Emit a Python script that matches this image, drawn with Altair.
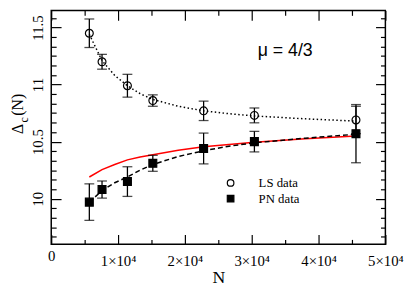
import altair as alt
import pandas as pd

# ---- data ----
N = [5700, 7600, 11400, 15200, 22800, 30400, 45600]
ls_val = [11.45, 11.20, 10.99, 10.86, 10.77, 10.73, 10.69]
ls_err = [0.125, 0.065, 0.10, 0.05, 0.085, 0.065, 0.12]
pn_val = [9.97, 10.08, 10.15, 10.31, 10.44, 10.50, 10.57]
pn_err = [0.16, 0.075, 0.13, 0.07, 0.135, 0.09, 0.255]

fit_N = [5700, 7600, 9500, 11400, 13300, 15200, 19000, 22800, 26600, 30400, 38000, 45600]
ls_fit = [11.44, 11.21, 11.08, 10.99, 10.92, 10.87, 10.81, 10.77, 10.745, 10.725, 10.70, 10.68]
pn_fit = [9.97, 10.07, 10.14, 10.19, 10.25, 10.30, 10.37, 10.42, 10.46, 10.49, 10.53, 10.565]
red_fit = [10.19, 10.255, 10.30, 10.34, 10.365, 10.385, 10.425, 10.455, 10.475, 10.495, 10.525, 10.55]

series_names = ["LS data", "PN data"]
annotation = ["μ = 4/3"]

x_major = [0, 10000, 20000, 30000, 40000, 50000]
x_minor = [5000, 15000, 25000, 35000, 45000]
y_major = [10, 10.5, 11, 11.5]
y_minor = [k / 12 for k in range(116, 140) if k % 6 != 0]

# ---- tables ----
df_pts = pd.DataFrame({
    "N": N + N,
    "v": ls_val + pn_val,
    "err": ls_err + pn_err,
    "series": [series_names[0]] * len(N) + [series_names[1]] * len(N),
})
df_pts["lo"] = df_pts["v"] - df_pts["err"]
df_pts["hi"] = df_pts["v"] + df_pts["err"]

df_fit = pd.DataFrame({"N": fit_N, "ls": ls_fit, "pn": pn_fit, "red": red_fit})
df_txt = pd.DataFrame({"N": [30900], "v": [11.25], "t": annotation})

SERIF = "Liberation Serif"
xs = alt.Scale(domain=[0, 50000], nice=False, zero=False)
ys = alt.Scale(domain=[9.6, 11.65], nice=False, zero=False)


def tick_axis(orient, values, size):
    return alt.Axis(orient=orient, values=values, labels=False, domain=False,
                    grid=False, ticks=True, tickSize=size, offset=-size,
                    tickColor="black", tickWidth=1.2, title=None)


main_x = alt.Axis(
    orient="bottom", values=x_major,
    labelExpr="datum.value == 0 ? '0' : format(datum.value / 10000, 'd') + '×10⁴'",
    ticks=False, domain=False, grid=False, labelFlush=False, labelOverlap=False,
    labelFont=SERIF, labelFontSize=15, labelColor="black", labelBaseline="top",
    labelPadding={"condition": {"test": "datum.value == 0", "value": 4}, "value": 10},
    title="N", titleFont=SERIF, titleFontSize=18, titleFontWeight="normal",
    titleColor="black", titlePadding=0,
)
main_y = alt.Axis(
    orient="left", values=y_major, labelExpr="format(datum.value, '~g')",
    ticks=False, domain=False, grid=False, labelFlush=False, labelOverlap=False,
    labelAngle=270, labelAlign="center", labelBaseline="bottom", labelPadding=6,
    labelFont=SERIF, labelFontSize=15, labelColor="black", title=None,
)

red = alt.Chart(df_fit).mark_line(color="#ff0000", strokeWidth=1.5).encode(
    x=alt.X("N:Q", scale=xs, axis=main_x),
    y=alt.Y("red:Q", scale=ys, axis=main_y),
)
dotted = alt.Chart(df_fit).mark_line(color="black", strokeWidth=1.5, strokeDash=[1.5, 2.5]).encode(
    x=alt.X("N:Q", scale=xs, axis=tick_axis("bottom", x_major, 10)),
    y=alt.Y("ls:Q", scale=ys, axis=tick_axis("left", y_major, 10)),
)
dashed = alt.Chart(df_fit).mark_line(color="black", strokeWidth=1.5, strokeDash=[5, 3]).encode(
    x=alt.X("N:Q", scale=xs, axis=tick_axis("bottom", x_minor, 5)),
    y=alt.Y("pn:Q", scale=ys, axis=tick_axis("left", y_minor, 5)),
)
rules = alt.Chart(df_pts).mark_rule(color="black", strokeWidth=1.3).encode(
    x=alt.X("N:Q", scale=xs, axis=tick_axis("top", x_major, 10)),
    y=alt.Y("lo:Q", scale=ys, axis=tick_axis("right", y_major, 10)),
    y2="hi:Q",
)
caps_lo = alt.Chart(df_pts).mark_tick(color="black", orient="horizontal", size=10, thickness=1.3).encode(
    x=alt.X("N:Q", scale=xs, axis=tick_axis("top", x_minor, 5)),
    y=alt.Y("lo:Q", scale=ys, axis=tick_axis("right", y_minor, 5)),
)
caps_hi = alt.Chart(df_pts).mark_tick(color="black", orient="horizontal", size=10, thickness=1.3).encode(
    x=alt.X("N:Q", scale=xs, axis=None),
    y=alt.Y("hi:Q", scale=ys, axis=None),
)
leg = alt.Legend(orient="none", legendX=176, legendY=169, title=None, labelFont=SERIF,
                 labelFontSize=13, labelColor="black", symbolSize=45, symbolStrokeWidth=1.2,
                 labelOffset=22, rowPadding=2, padding=0)
points = alt.Chart(df_pts).mark_point(size=64, strokeWidth=1.2, opacity=1, filled=True).encode(
    x=alt.X("N:Q", scale=xs, axis=None),
    y=alt.Y("v:Q", scale=ys, axis=None),
    shape=alt.Shape("series:N", scale=alt.Scale(domain=series_names, range=["circle", "square"]), legend=leg),
    fill=alt.Fill("series:N", scale=alt.Scale(domain=series_names, range=["transparent", "black"]), legend=leg),
    stroke=alt.Stroke("series:N", scale=alt.Scale(domain=series_names, range=["black", "black"]), legend=leg),
)
mu = alt.Chart(df_txt).mark_text(font="Liberation Sans", fontSize=18, align="left",
                                 baseline="alphabetic", color="black").encode(
    x=alt.X("N:Q", scale=xs, axis=None),
    y=alt.Y("v:Q", scale=ys, axis=None),
    text="t:N",
)

ytitle_delta = alt.Chart(pd.DataFrame({"t": ["Δ"]})).mark_text(
    font=SERIF, fontSize=16, angle=270, align="center", baseline="alphabetic", color="black"
).encode(x=alt.value(-29), y=alt.value(120.5), text="t:N")
ytitle_c = alt.Chart(pd.DataFrame({"t": ["c"]})).mark_text(
    font=SERIF, fontSize=12, angle=270, align="center", baseline="alphabetic", color="black"
).encode(x=alt.value(-23.5), y=alt.value(111.5), text="t:N")
ytitle_n = alt.Chart(pd.DataFrame({"t": ["(N)"]})).mark_text(
    font=SERIF, fontSize=16, angle=270, align="center", baseline="alphabetic", color="black"
).encode(x=alt.value(-29), y=alt.value(96), text="t:N")

chart = alt.layer(
    red, dotted, dashed, rules, caps_lo, caps_hi, points, mu,
    ytitle_delta, ytitle_c, ytitle_n,
).resolve_axis(x="independent", y="independent").properties(
    width=340, height=238,
    autosize=alt.AutoSizeParams(type="none"),
    padding={"left": 44, "top": 0, "right": 22, "bottom": 44},
    background="white",
).configure_view(stroke="black", strokeWidth=1.5)

chart.save("out.html", embed_options={"renderer": "svg", "actions": False})
